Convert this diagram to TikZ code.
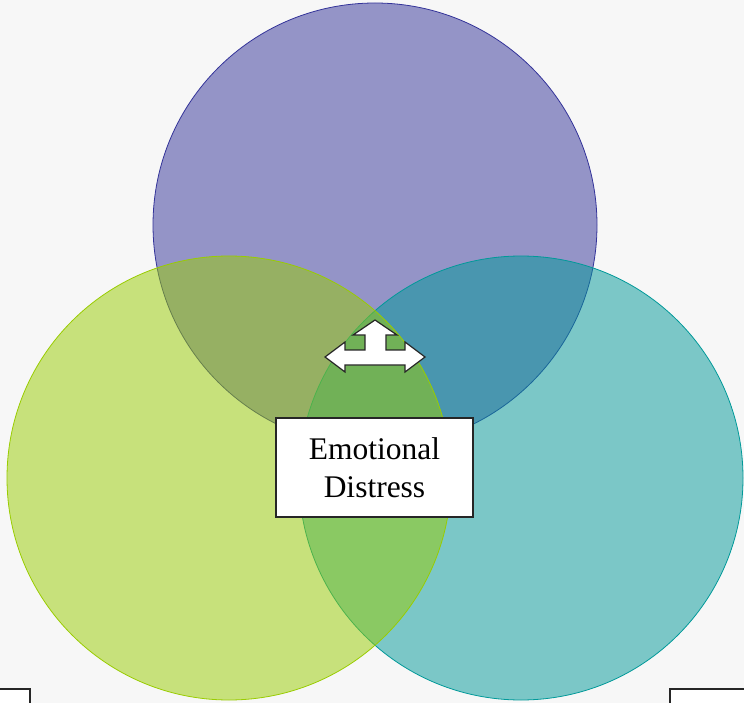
\documentclass[tikz,border=0pt]{standalone}
\usepackage{fontspec}
\setmainfont{Liberation Serif}
\definecolor{bg}{RGB}{247,247,247}
\definecolor{cpurple}{RGB}{51,51,153}
\definecolor{cgreen}{RGB}{153,204,0}
\definecolor{cteal}{RGB}{0,153,153}
\begin{document}
\begin{tikzpicture}[x=1pt,y=-1pt,
  venn/.style={circle,minimum size=444pt,inner sep=0pt,line width=0.8pt,fill opacity=0.5,draw opacity=1},
  whitebox/.style={draw=black!85,fill=white,line width=1.3pt},
  label/.style={whitebox,minimum width=197pt,minimum height=99pt,inner sep=0pt,align=center,
    font=\fontsize{31.5}{38.5}\selectfont}]
\useasboundingbox (0,0) rectangle (744,703);
\fill[bg] (0,0) rectangle (744,703);
\node[venn,draw=cpurple,fill=cpurple] (top) at (375,225) {};
\node[venn,draw=cteal,fill=cteal] (right) at (521,478) {};
\node[venn,draw=cgreen,fill=cgreen] (left) at (229,478) {};
\begin{scope}
\clip (0,0) rectangle (744,703);
\draw[whitebox] (-10,689) rectangle (30,720);
\draw[whitebox] (670,689) rectangle (760,720);
\end{scope}
\draw[whitebox,line width=1.2pt,line join=miter]
  (375,320) -- (397,335) -- (386,335) -- (386,350) -- (405,350) -- (405,342)
  -- (425,357) -- (405,372) -- (405,365) -- (345,365) -- (345,372)
  -- (325,357) -- (345,342) -- (345,350) -- (365,350) -- (365,335)
  -- (353,335) -- cycle;
\node[label] (distress) at (374.5,467.5) {Emotional\\Distress};
\end{tikzpicture}
\end{document}
